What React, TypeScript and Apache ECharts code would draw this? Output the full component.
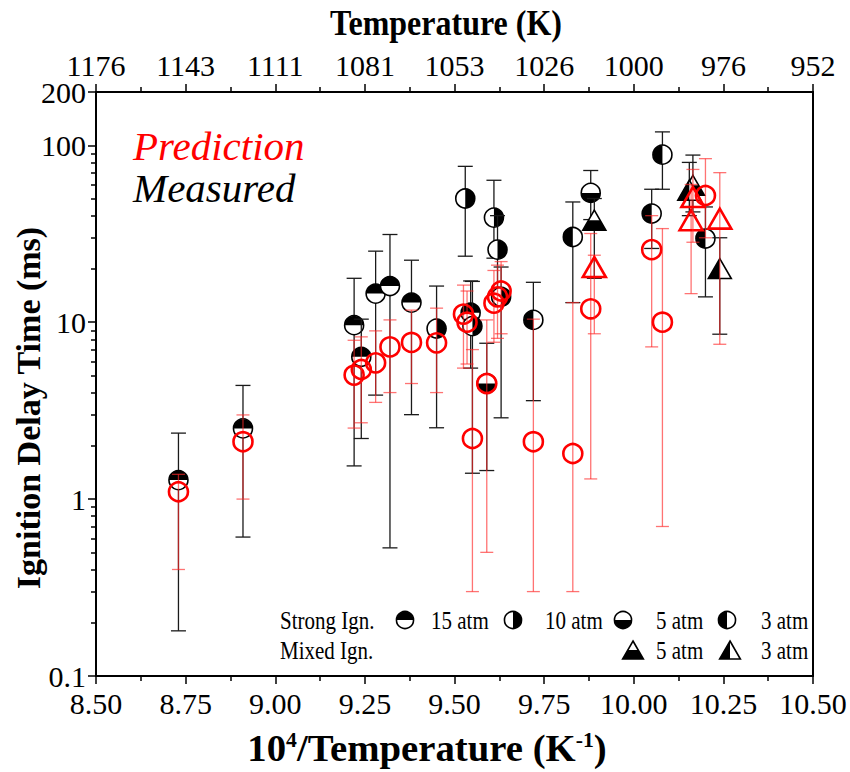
import React, { useEffect, useRef } from 'react';
import * as echarts from 'echarts';

// ---- data: [10^4/T, IDT (ms), error low, error high] ----
const strong15atm = [
  [8.73, 1.28, 0.18, 2.36],
  [8.91, 2.51, 0.61, 4.39],
  [9.22, 9.62, 1.54, 17.7],
  [9.24, 6.37, 2.2, 10.4],
  [9.28, 14.5, 3.87, 25.2],
  [9.32, 16.0, 0.53, 31.3],
  [9.38, 12.9, 3.0, 22.4],
  [9.545, 11.3, 5.5, 17.1],
];
const strong10atm = [
  [9.45, 9.2, 2.53, 16],
  [9.53, 50, 23.6, 76],
  [9.55, 9.5, 1.4, 17],
  [9.61, 39, 23, 63.4],
  [9.62, 25.7, 15, 40],
  [9.63, 13.9, 2.88, 20.5],
];
const strong5atm = [
  [9.59, 4.5, 1.45, 7.6],
  [9.88, 53.8, 38, 72],
];
const strong3atm = [
  [9.72, 10.3, 3.6, 16.8],
  [9.83, 30.3, 12.9, 47.8],
  [10.05, 41.1, 26.1, 56.4],
  [10.08, 88.5, 56.4, 119],
  [10.2, 29.7, 13.9, 44.8],
];
const mixed5atm = [
  [9.89, 37.7, 17.7, 50],
  [10.165, 59.4, 42, 88],
];
const mixed3atm = [
  [10.155, 55.7, 40, 80],
  [10.24, 20.1, 8.55, 30],
];
const predictionStrong = [
  [8.73, 1.1, 0.4, 1.38],
  [8.91, 2.11, 1.0, 2.99],
  [9.22, 5.02, 2.52, 7.9],
  [9.24, 5.4, 2.7, 8.26],
  [9.28, 5.89, 3.52, 8.93],
  [9.32, 7.25, 4.0, 10.3],
  [9.38, 7.68, 4.5, 11.7],
  [9.45, 7.64, 4.0, 12.0],
  [9.525, 11.1, 5.5, 16.2],
  [9.535, 10.0, 5.8, 15],
  [9.55, 2.2, 0.3, 7],
  [9.59, 4.5, 0.5, 10.3],
  [9.61, 12.8, 7.7, 19.6],
  [9.62, 13.9, 8.1, 21],
  [9.63, 15.0, 8.6, 22],
  [9.72, 2.11, 0.3, 10.4],
  [9.83, 1.81, 0.3, 12.9],
  [9.88, 11.9, 1.3, 31.7],
  [10.05, 25.7, 7.25, 40],
  [10.08, 10.0, 0.7, 33.8],
  [10.2, 52, 30, 84],
];
const predictionMixed = [
  [9.89, 20.5, 8.6, 23.9],
  [10.16, 37.7, 14.5, 60],
  [10.165, 51, 28.3, 73],
  [10.24, 38.5, 7.5, 70],
];

const xTicks = [8.5, 8.75, 9.0, 9.25, 9.5, 9.75, 10.0, 10.25, 10.5];
const topTickLabels = ['1176', '1143', '1111', '1081', '1053', '1026', '1000', '976', '952'];
const yMajorTicks = [0.1, 1, 10, 100, 200];
const yMinorTicks = [0.2, 0.3, 0.4, 0.5, 0.6, 0.7, 0.8, 0.9, 2, 3, 4, 5, 6, 7, 8, 9, 20, 30, 40, 50, 60, 70, 80, 90];

const SERIF = '"Liberation Serif", "Times New Roman", serif';
const BLACK_BAR = '#1a1a1a';
const RED_BAR = 'rgba(255,40,40,0.65)';

function markerShapes(cx: number, cy: number, kind: string, size = 1): any[] {
  const r = 9.5 * size;
  const half: Record<string, [number, number]> = {
    top: [Math.PI, 2 * Math.PI],
    bottom: [0, Math.PI],
    right: [-Math.PI / 2, Math.PI / 2],
    left: [Math.PI / 2, 1.5 * Math.PI],
  };
  if (half[kind]) {
    const [s, e] = half[kind];
    return [
      { type: 'circle', shape: { cx, cy, r }, style: { fill: '#fff', stroke: null } },
      { type: 'sector', shape: { cx, cy, r0: 0, r, startAngle: s, endAngle: e, clockwise: true }, style: { fill: '#000' } },
      { type: 'circle', shape: { cx, cy, r }, style: { fill: 'none', stroke: '#000', lineWidth: 1.6 } },
    ];
  }
  const w = 23 * size, h = 20 * size;
  const tri = [[cx, cy - h / 2], [cx + w / 2, cy + h / 2], [cx - w / 2, cy + h / 2]];
  if (kind === 'triBottom' || kind === 'triLeft') {
    const fillPts = kind === 'triBottom'
      ? [[cx - w / 4, cy], [cx + w / 4, cy], [cx + w / 2, cy + h / 2], [cx - w / 2, cy + h / 2]]
      : [[cx, cy - h / 2], [cx, cy + h / 2], [cx - w / 2, cy + h / 2]];
    return [
      { type: 'polygon', shape: { points: tri }, style: { fill: '#fff', stroke: null } },
      { type: 'polygon', shape: { points: fillPts }, style: { fill: '#000' } },
      { type: 'polygon', shape: { points: tri }, style: { fill: 'none', stroke: '#000', lineWidth: 1.6 } },
    ];
  }
  if (kind === 'redTri') {
    return [{ type: 'polygon', shape: { points: tri }, style: { fill: 'none', stroke: '#ff0000', lineWidth: 2.6 } }];
  }
  return [{ type: 'circle', shape: { cx, cy, r }, style: { fill: 'none', stroke: '#ff0000', lineWidth: 2.6 } }];
}

function makeSeries(name: string, data: number[][], kind: string, barColor: string, capW: number) {
  return {
    type: 'custom',
    name,
    data,
    silent: true,
    encode: { x: 0, y: 1 },
    renderItem: (_p: any, api: any) => {
      const x = api.value(0), y = api.value(1), lo = api.value(2), hi = api.value(3);
      const p = api.coord([x, y]);
      const pl = api.coord([x, lo]);
      const ph = api.coord([x, hi]);
      const bs = { stroke: barColor, lineWidth: 1.3 };
      return {
        type: 'group',
        children: [
          { type: 'line', shape: { x1: p[0], y1: ph[1], x2: p[0], y2: pl[1] }, style: bs },
          { type: 'line', shape: { x1: p[0] - capW / 2, y1: ph[1], x2: p[0] + capW / 2, y2: ph[1] }, style: bs },
          { type: 'line', shape: { x1: p[0] - capW / 2, y1: pl[1], x2: p[0] + capW / 2, y2: pl[1] }, style: bs },
          ...markerShapes(p[0], p[1], kind),
        ],
      };
    },
  };
}

function legendGraphics(): any[] {
  const row1 = 620, row2 = 650;
  const txt = (x: number, y: number, t: string) => ({
    type: 'text', x, y, scaleY: 1.2,
    style: { text: t, fontFamily: SERIF, fontSize: 21, fill: '#000', align: 'left', verticalAlign: 'middle' },
  });
  const shapes = (cx: number, cy: number, kind: string) => markerShapes(cx, cy, kind, 0.9);
  return [
    txt(280, row1, 'Strong Ign.'),
    ...shapes(405, row1, 'top'), txt(431, row1, '15 atm'),
    ...shapes(513, row1, 'right'), txt(545, row1, '10 atm'),
    ...shapes(623, row1, 'bottom'), txt(656, row1, '5 atm'),
    ...shapes(727, row1, 'left'), txt(761, row1, '3 atm'),
    txt(280, row2, 'Mixed Ign.'),
    ...shapes(633, row2, 'triBottom'), txt(656, row2, '5 atm'),
    ...shapes(730, row2, 'triLeft'), txt(761, row2, '3 atm'),
  ];
}

export default function App() {
  const ref = useRef<HTMLDivElement>(null);
  useEffect(() => {
    if (!ref.current) return;
    const chart = echarts.init(ref.current, null, { renderer: 'svg' });
    const labelStyle = { fontFamily: SERIF, fontSize: 30, color: '#000' };
    const axisLine = { show: true, onZero: false, lineStyle: { color: '#000', width: 2 } };
    chart.setOption({
      animation: false,
      backgroundColor: '#fff',
      grid: { left: 96, top: 92, right: 37, bottom: 96, containLabel: false, outerBoundsMode: 'none' },
      xAxis: [
        {
          type: 'value', position: 'bottom', min: 8.5, max: 10.5, interval: 0.25,
          axisLine, splitLine: { show: false },
          axisTick: { show: true, inside: false, length: 8, lineStyle: { color: '#000', width: 1.5 } },
          minorTick: { show: true, splitNumber: 2, length: 5, lineStyle: { color: '#000', width: 1.5 } },
          axisLabel: { ...labelStyle, margin: 12, formatter: (v: number) => v.toFixed(2) },
        },
        {
          type: 'value', position: 'top', min: 8.5, max: 10.5, interval: 0.25,
          axisLine, splitLine: { show: false },
          axisTick: { show: true, inside: false, length: 8, lineStyle: { color: '#000', width: 1.5 } },
          minorTick: { show: true, splitNumber: 2, length: 5, lineStyle: { color: '#000', width: 1.5 } },
          axisLabel: {
            ...labelStyle, margin: 12,
            formatter: (v: number) => topTickLabels[xTicks.findIndex((t) => Math.abs(t - v) < 1e-6)] ?? '',
          },
        },
      ],
      yAxis: [
        {
          type: 'log', logBase: 10, min: 0.1, max: 200, position: 'left',
          axisLine, splitLine: { show: false }, minorTick: { show: false },
          axisTick: { show: true, inside: false, length: 8, customValues: yMajorTicks, lineStyle: { color: '#000', width: 1.5 } },
          axisLabel: { ...labelStyle, margin: 10, customValues: yMajorTicks, formatter: (v: number) => String(+v.toPrecision(6)) },
        },
        {
          type: 'log', logBase: 10, min: 0.1, max: 200, position: 'left',
          axisLine: { show: false }, splitLine: { show: false },
          axisTick: { show: true, inside: false, length: 5, customValues: yMinorTicks, lineStyle: { color: '#000', width: 1.5 } },
          axisLabel: { show: false },
        },
        {
          type: 'log', logBase: 10, min: 0.1, max: 200, position: 'right',
          axisLine, splitLine: { show: false },
          axisTick: { show: false }, axisLabel: { show: false },
        },
      ],
      series: [
        makeSeries('15 atm', strong15atm, 'top', BLACK_BAR, 15),
        makeSeries('10 atm', strong10atm, 'right', BLACK_BAR, 15),
        makeSeries('5 atm', strong5atm, 'bottom', BLACK_BAR, 15),
        makeSeries('3 atm', strong3atm, 'left', BLACK_BAR, 15),
        makeSeries('Mixed 5 atm', mixed5atm, 'triBottom', BLACK_BAR, 15),
        makeSeries('Mixed 3 atm', mixed3atm, 'triLeft', BLACK_BAR, 15),
        makeSeries('Prediction', predictionStrong, 'redCircle', RED_BAR, 13),
        makeSeries('Prediction mixed', predictionMixed, 'redTri', RED_BAR, 13),
      ],
      graphic: [
        {
          type: 'text', x: 446, y: 22, scaleY: 1.15,
          style: { text: 'Temperature (K)', fontFamily: SERIF, fontWeight: 'bold', fontSize: 32, fill: '#000', align: 'center', verticalAlign: 'middle' },
        },
        {
          type: 'text', x: 427, y: 748, scaleX: 1.14, scaleY: 1.12,
          style: {
            text: '{a|10}{s|4}{a|/Temperature (K}{s|-1}{a|)}',
            align: 'center', verticalAlign: 'middle',
            rich: {
              a: { fontFamily: SERIF, fontWeight: 'bold', fontSize: 34, fill: '#000', lineHeight: 34 },
              s: { fontFamily: SERIF, fontWeight: 'bold', fontSize: 19, fill: '#000', verticalAlign: 'top', lineHeight: 34 },
            },
          },
        },
        {
          type: 'text', x: 28, y: 408, rotation: Math.PI / 2,
          style: { text: 'Ignition Delay Time (ms)', fontFamily: SERIF, fontWeight: 'bold', fontSize: 34, fill: '#000', align: 'center', verticalAlign: 'middle' },
        },
        {
          type: 'text', x: 133, y: 146,
          style: { text: 'Prediction', fontFamily: SERIF, fontStyle: 'italic', fontSize: 41, fill: '#ff0000', align: 'left', verticalAlign: 'middle' },
        },
        {
          type: 'text', x: 133, y: 188,
          style: { text: 'Measured', fontFamily: SERIF, fontStyle: 'italic', fontSize: 41, fill: '#000', align: 'left', verticalAlign: 'middle' },
        },
        ...legendGraphics(),
      ],
    });
    return () => chart.dispose();
  }, []);
  return <div ref={ref} style={{ position: 'fixed', left: 0, top: 0, width: 850, height: 772, background: '#fff' }} />;
}
